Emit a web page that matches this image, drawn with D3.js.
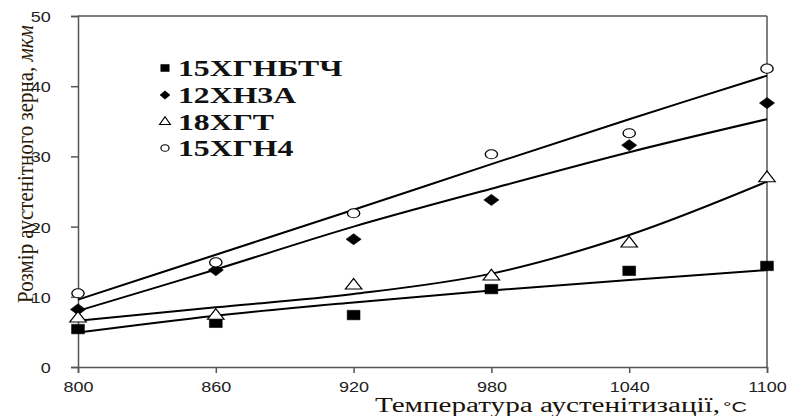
<!DOCTYPE html>
<html>
<head>
<meta charset="utf-8">
<script src="https://cdn.jsdelivr.net/npm/d3@7"></script>
<style>
  body { margin: 0; background: #fff; }
  svg { display: block; }
</style>
</head>
<body>
<script>
// temperatures (x) and measured grain size, мкм
var temps = [800, 860, 920, 980, 1040, 1100];
var xTicks = [800, 860, 920, 980, 1040, 1100];
var yTicks = [0, 10, 20, 30, 40, 50];

var names = ["15ХГНБТЧ", "12ХН3А", "18ХГТ", "15ХГН4"];
var pts15HGNBTCh = [5.4, 6.3, 7.4, 11.1, 13.7, 14.4];
var pts12HN3A   = [8.2, 13.8, 18.2, 23.8, 31.6, 37.6];
var pts18HGT    = [6.9, 7.3, 11.6, 12.9, 17.6, 26.9];
var pts15HGN4   = [10.5, 14.9, 21.9, 30.3, 33.3, 42.5];

// trend lines
var trend15HGNBTCh = [4.9, 7.3, 9.2, 10.9, 12.4, 13.8];
var trend12HN3A   = [8.0, 13.9, 20.0, 25.4, 30.6, 35.3];
var trend18HGT    = [6.6, 8.5, 10.4, 13.3, 18.8, 26.4];
var trend15HGN4   = [9.6, 16.0, 22.4, 28.9, 35.3, 41.5];

var W = 790, H = 416;
var svg = d3.select("body").append("svg").attr("width", W).attr("height", H);

var x = d3.scaleLinear().domain([800, 1100]).range([78, 767]);
var y = d3.scaleLinear().domain([0, 50]).range([367, 16]);

var axisColor = "#555";

// frame (top and right)
svg.append("line").attr("x1", x(800)).attr("x2", x(1100)).attr("y1", y(50)).attr("y2", y(50))
    .attr("stroke", axisColor).attr("stroke-width", 1.5);
svg.append("line").attr("x1", x(1100)).attr("x2", x(1100)).attr("y1", y(50)).attr("y2", y(0))
    .attr("stroke", axisColor).attr("stroke-width", 1.5);

var gx = svg.append("g").attr("transform", "translate(0," + y(0) + ")")
    .call(d3.axisBottom(x).tickValues(xTicks).tickSize(6).tickPadding(8).tickFormat(d3.format("d")));
var gy = svg.append("g").attr("transform", "translate(" + x(800) + ",0)")
    .call(d3.axisLeft(y).tickValues(yTicks).tickSize(7).tickPadding(9));

[gx, gy].forEach(function(g) {
    g.select(".domain").attr("stroke", axisColor).attr("stroke-width", 1.5);
    g.selectAll(".tick line").attr("stroke", axisColor).attr("stroke-width", 1.5);
    g.selectAll(".tick text").attr("fill", "#222")
        .style("font-family", "'Liberation Sans', Arial, sans-serif").style("font-size", "15px");
});
gx.selectAll(".tick text").attr("transform", "scale(1.2,1)");
gy.selectAll(".tick text").attr("transform", "translate(-8,0) scale(1.2,1)").attr("dy", "0.36em");

// series
var series = [
    { name: names[0], pts: pts15HGNBTCh, trend: trend15HGNBTCh, sym: "square" },
    { name: names[1], pts: pts12HN3A, trend: trend12HN3A, sym: "diamond" },
    { name: names[2], pts: pts18HGT, trend: trend18HGT, sym: "triangle" },
    { name: names[3], pts: pts15HGN4, trend: trend15HGN4, sym: "circle" }
];

var line = d3.line()
    .x(function(d, i) { return x(temps[i]); })
    .y(function(d) { return y(d); })
    .curve(d3.curveCatmullRom.alpha(0.5));

svg.selectAll("path.trend").data(series).enter().append("path")
    .attr("class", "trend")
    .attr("d", function(s) { return line(s.trend); })
    .attr("fill", "none").attr("stroke", "#000").attr("stroke-width", 2);

function marker(sel, sym, size) {
    var type = { square: d3.symbolSquare, diamond: d3.symbolDiamond2, triangle: d3.symbolTriangle, circle: d3.symbolCircle }[sym];
    var open = (sym == "triangle" || sym == "circle");
    sel.attr("d", d3.symbol().type(type).size(size))
        .attr("fill", open ? "#fff" : "#000")
        .attr("stroke", "#000")
        .attr("stroke-width", open ? 1 : 0.5);
}

var sizes = { square: 90, diamond: 80, triangle: 65, circle: 65 };

series.forEach(function(s) {
    svg.selectAll(null).data(s.pts).enter().append("path")
        .call(marker, s.sym, sizes[s.sym])
        .attr("transform", function(d, i) { return "translate(" + x(temps[i]) + "," + y(d) + ") scale(1.35,1)"; });
});

// legend
var legend = svg.append("g").attr("transform", "translate(165,68)");
var rows = legend.selectAll("g").data(series).enter().append("g")
    .attr("transform", function(d, i) { return "translate(0," + [0, 27, 54, 80][i] + ")"; });
rows.append("path")
    .each(function(s) { d3.select(this).call(marker, s.sym, sizes[s.sym] * 0.55); })
    .attr("transform", "scale(1.2,1)");
rows.append("text")
    .attr("transform", "translate(13,8) scale(1.38,1)")
    .style("font-family", "'Liberation Serif', 'Times New Roman', serif")
    .style("font-weight", "bold").style("font-size", "23px")
    .attr("fill", "#111")
    .text(function(s) { return s.name; });

// axis titles
svg.append("text")
    .attr("x", 375).attr("y", 412)
    .attr("textLength", 345).attr("lengthAdjust", "spacingAndGlyphs")
    .style("font-family", "'Liberation Serif', 'Times New Roman', serif").style("font-size", "20px")
    .attr("fill", "#1a1208")
    .text("Температура аустенітизації,");
svg.append("text")
    .attr("x", 723).attr("y", 412)
    .attr("textLength", 24).attr("lengthAdjust", "spacingAndGlyphs")
    .style("font-family", "'Liberation Sans', Arial, sans-serif").style("font-size", "14px")
    .attr("fill", "#1a1208")
    .text("°C");

var yt = svg.append("text")
    .attr("transform", "translate(33,303) rotate(-90) scale(1,1.3)")
    .attr("textLength", 278).attr("lengthAdjust", "spacingAndGlyphs")
    .style("font-family", "'Liberation Serif', 'Times New Roman', serif").style("font-size", "18px")
    .attr("fill", "#2a1a08");
yt.append("tspan").text("Розмір аустенітного зерна, ");
yt.append("tspan").style("font-style", "italic").text("мкм");
</script>
</body>
</html>
